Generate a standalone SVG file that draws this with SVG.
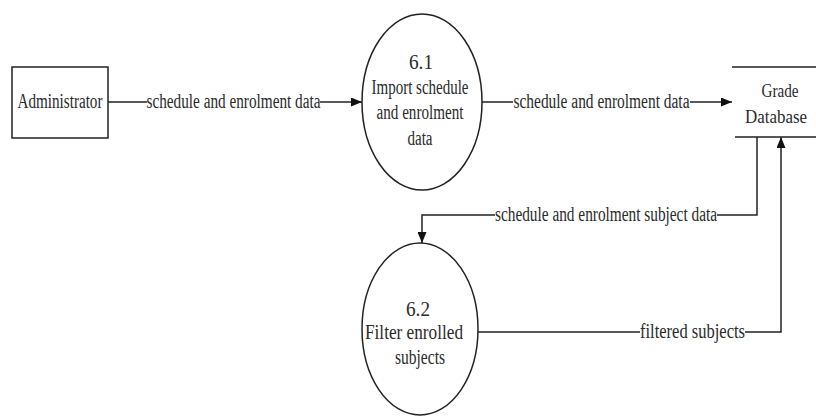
<svg xmlns="http://www.w3.org/2000/svg" width="816" height="417" viewBox="0 0 816 417">
<style>
text{font-family:'Liberation Serif','Times New Roman',Times,serif;font-size:20px;fill:#2a2a2a;text-anchor:middle}
.s{fill:none;stroke:#222;stroke-width:1.5}
.w{fill:#fff;stroke:#222;stroke-width:1.5}
</style>
<defs>
<marker id="ah" markerUnits="userSpaceOnUse" markerWidth="11" markerHeight="9" refX="11" refY="4.5" orient="auto">
<path d="M0,0 L11,4.5 L0,9 z" fill="#111"/>
</marker>
</defs>
<rect width="816" height="417" fill="#fff"/>
<g id="connectors">
<path class="s" d="M108,102 H147"/>
<path class="s" d="M320,102 H362" marker-end="url(#ah)"/>
<text x="233.5" y="108" textLength="174" lengthAdjust="spacingAndGlyphs">schedule and enrolment data</text>
<path class="s" d="M482,102 H513"/>
<path class="s" d="M690,102 H732" marker-end="url(#ah)"/>
<text x="601.5" y="108" textLength="176" lengthAdjust="spacingAndGlyphs">schedule and enrolment data</text>
<path class="s" d="M757,137 V215 H717"/>
<path class="s" d="M495,215 H422 V243" marker-end="url(#ah)"/>
<text x="606" y="221" textLength="222" lengthAdjust="spacingAndGlyphs">schedule and enrolment subject data</text>
<path class="s" d="M478,332 H640"/>
<path class="s" d="M745,332 H781 V137" marker-end="url(#ah)"/>
<text x="692.5" y="338" textLength="105" lengthAdjust="spacingAndGlyphs">filtered subjects</text>
</g>
<g id="administrator">
<rect class="w" x="12" y="67" width="96" height="71"/>
<text x="60" y="108" textLength="85" lengthAdjust="spacingAndGlyphs">Administrator</text>
</g>
<g id="p61">
<ellipse class="w" cx="422" cy="102" rx="60" ry="88"/>
<text x="421" y="69" textLength="24" lengthAdjust="spacingAndGlyphs">6.1</text>
<text x="420" y="94" textLength="97" lengthAdjust="spacingAndGlyphs">Import schedule</text>
<text x="420" y="119" textLength="87" lengthAdjust="spacingAndGlyphs">and enrolment</text>
<text x="420" y="145" textLength="25" lengthAdjust="spacingAndGlyphs">data</text>
</g>
<g id="gradedb">
<path class="s" d="M732,67 H816 M735,137 H816"/>
<text x="780" y="97" style="font-size:19px" textLength="37" lengthAdjust="spacingAndGlyphs">Grade</text>
<text x="776" y="123" style="font-size:19px" textLength="62" lengthAdjust="spacingAndGlyphs">Database</text>
</g>
<g id="p62">
<ellipse class="w" cx="420" cy="329" rx="58" ry="86"/>
<text x="418" y="316" textLength="24" lengthAdjust="spacingAndGlyphs">6.2</text>
<text x="414" y="339" textLength="98" lengthAdjust="spacingAndGlyphs">Filter enrolled</text>
<text x="420" y="364" textLength="50" lengthAdjust="spacingAndGlyphs">subjects</text>
</g>
</svg>
